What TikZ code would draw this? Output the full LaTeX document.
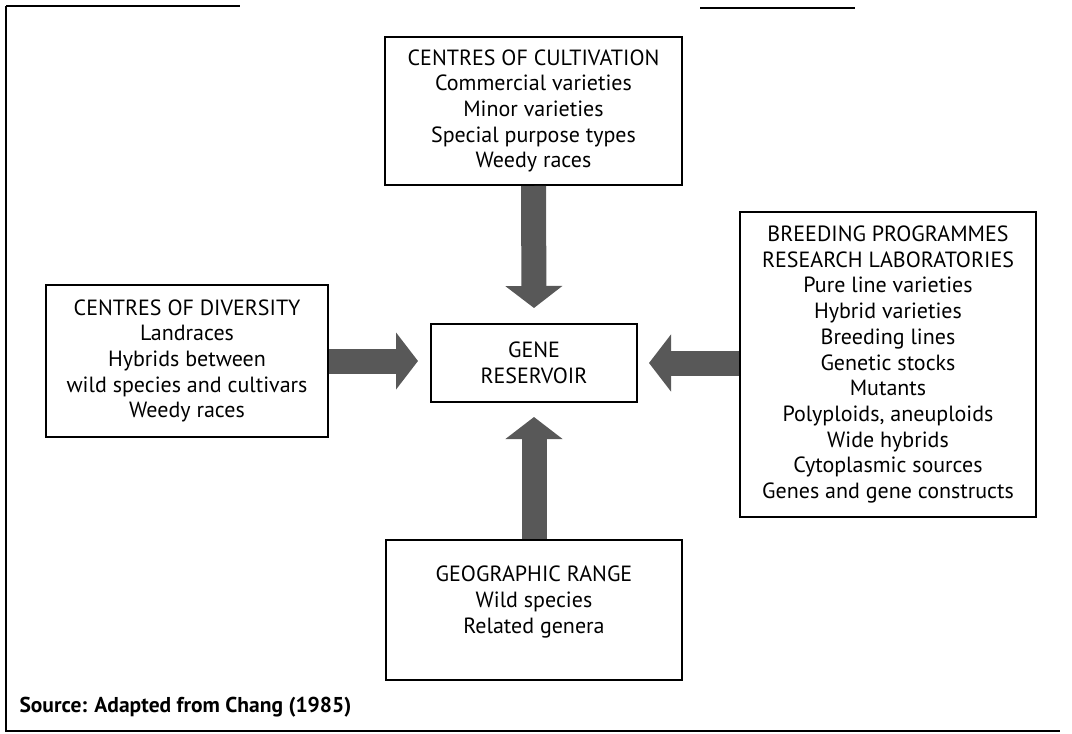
\documentclass[tikz,border=0pt]{standalone}
\usepackage{fontspec}
\setmainfont{PT Sans}
\usetikzlibrary{arrows.meta,positioning}
\definecolor{arrowgray}{RGB}{88,88,88}

\begin{document}
\begin{tikzpicture}[x=1pt, y=-1pt, font=\fontsize{22}{25.7}\selectfont,
    box/.style={draw, line width=2pt, align=center, inner sep=0pt},
    bigarrow/.style={arrowgray, line width=25pt, -{Triangle[length=22pt, width=56pt]}}]

    \useasboundingbox (0,0) rectangle (1072,734);

    % page frame
    \draw[line width=1.2pt] (6,6) -- (240,6);
    \draw[line width=1.2pt] (700,8) -- (855,8);
    \draw[line width=1.2pt] (6,6) -- (6,731) -- (1060,731);

    \node[box, minimum width=297pt, minimum height=148pt] (cult) at (533.5,111)
        {CENTRES OF CULTIVATION\\Commercial varieties\\Minor varieties\\Special purpose types\\Weedy races};

    \node[box, minimum width=282pt, minimum height=152pt] (div) at (187,361)
        {CENTRES OF DIVERSITY\\Landraces\\Hybrids between\\wild species and cultivars\\Weedy races};

    \node[box, minimum width=206pt, minimum height=78pt] (gene) at (534,363)
        {GENE\\RESERVOIR};

    \node[box, minimum width=296pt, minimum height=305pt] (breed) at (888,364.5)
        {BREEDING PROGRAMMES\\RESEARCH LABORATORIES\\Pure line varieties\\Hybrid varieties\\Breeding lines\\Genetic stocks\\Mutants\\Polyploids, aneuploids\\Wide hybrids\\Cytoplasmic sources\\Genes and gene constructs};

    \node[box, minimum width=296pt, minimum height=140pt] (geo) at (534,610) {};
    \node[align=center] (geotext) at ([yshift=8pt]geo.center)
        {GEOGRAPHIC RANGE\\Wild species\\Related genera};

    % arrows into the reservoir
    \draw[bigarrow] (cult.south) -- ([yshift=15pt]gene.north);
    \draw[bigarrow] (geo.north) -- ([yshift=-14pt]gene.south);
    \draw[bigarrow] (div.east |- 0,361) -- ([xshift=-12pt]gene.west |- 0,361);
    \draw[bigarrow] (breed.west |- 0,363) -- ([xshift=11pt]gene.east |- 0,363);

    \node[anchor=west, font=\fontsize{21.5}{24}\selectfont\bfseries] (source) at (16,707)
        {Source: Adapted from Chang (1985)};

\end{tikzpicture}
\end{document}
